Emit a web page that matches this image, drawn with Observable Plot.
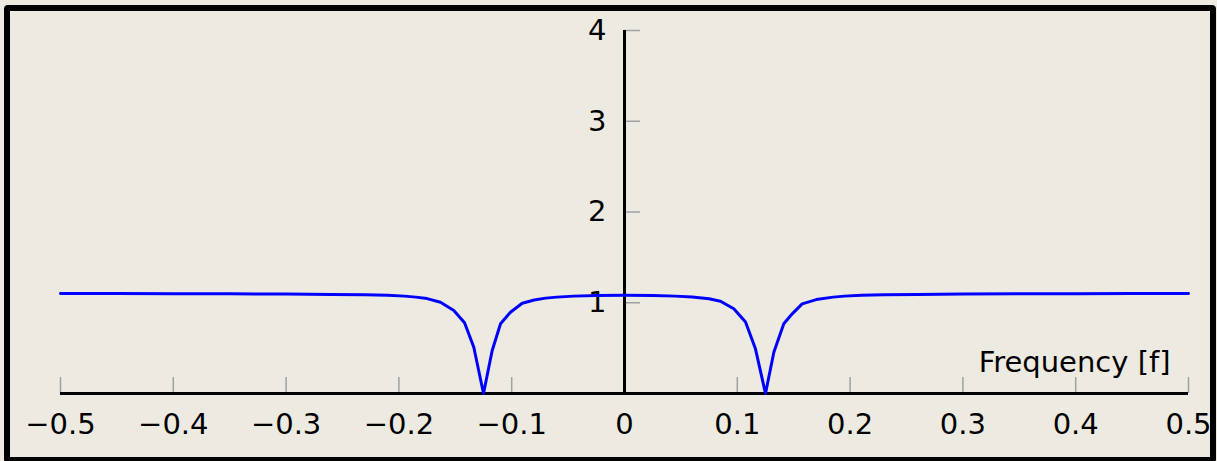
<!DOCTYPE html>
<html><head><meta charset="utf-8">
<script src="https://cdn.jsdelivr.net/npm/d3@7"></script>
<script src="https://cdn.jsdelivr.net/npm/@observablehq/plot@0.6"></script>
<style>
html,body{margin:0;padding:0;background:#edebe1;width:1217px;height:461px;overflow:hidden}
#chart{position:absolute;left:0;top:0}
#frame{position:absolute;left:4px;top:5px;width:1200px;height:446px;border:6px solid #000;border-radius:4px;pointer-events:none;box-sizing:content-box}
</style></head><body><div id="chart"></div><div id="frame"></div>
<script>
const freq = [-0.5,-0.45,-0.4,-0.35,-0.3,-0.26,-0.23,-0.21,-0.195,-0.185,-0.175,-0.1631,-0.1513,-0.1418,-0.1336,-0.125,-0.1173,-0.1099,-0.1011,-0.0907,-0.08,-0.07,-0.06,-0.045,-0.025,0,
  0.025,0.045,0.06,0.075,0.0851,0.0969,0.1073,0.1161,0.125,0.1324,0.1412,0.1487,0.1575,0.17,0.185,0.195,0.21,0.23,0.26,0.3,0.35,0.4,0.45,0.5];
const magnitude = [1.102,1.101,1.100,1.098,1.096,1.092,1.088,1.082,1.073,1.062,1.046,1.006,0.915,0.779,0.510,0,0.474,0.768,0.896,0.995,1.031,1.051,1.062,1.073,1.080,1.083,
  1.080,1.073,1.063,1.045,1.017,0.934,0.787,0.492,0,0.455,0.768,0.878,0.988,1.035,1.062,1.073,1.082,1.088,1.092,1.096,1.098,1.100,1.101,1.102];
const xTicks = [-0.5,-0.4,-0.3,-0.2,-0.1,0,0.1,0.2,0.3,0.4,0.5];
const yTicks = [1,2,3,4];
const xLabel = "Frequency [f]";

const data = freq.map((f, i) => ({f, v: magnitude[i]}));
const fmt = d => (d < 0 ? "\u2212" : "") + String(Math.abs(d));

const chart = Plot.plot({
  width: 1217, height: 461,
  marginLeft: 60, marginRight: 29, marginTop: 30, marginBottom: 68,
  x: {domain: [-0.5, 0.5], axis: null},
  y: {domain: [0, 4], axis: null},
  style: {background: "transparent", fontFamily: "DejaVu Sans", fontSize: "29px", color: "black", overflow: "visible"},
  marks: [
    Plot.ruleX(xTicks, {x: d => d, y1: 0, y2: 0.176, stroke: "#a0a0a0", strokeWidth: 1.5}),
    Plot.ruleY(yTicks, {y: d => d, x1: 0, x2: 0.0142, stroke: "#a0a0a0", strokeWidth: 1.5}),
    Plot.ruleY([0], {x1: -0.5, x2: 0.5, stroke: "black", strokeWidth: 3}),
    Plot.ruleX([0], {y1: 0, y2: 4, stroke: "black", strokeWidth: 3}),
    Plot.text(xTicks, {x: d => d, y: 0, dy: 31, text: fmt, fill: "black"}),
    Plot.text(yTicks, {x: 0, y: d => d, dx: -18, dy: 0, text: d => String(d), textAnchor: "end", fill: "black"}),
    Plot.text([xLabel], {x: 0.5, y: 0, dx: -18, dy: -31, text: d => d, textAnchor: "end", fill: "black"}),
    Plot.line(data, {x: "f", y: "v", stroke: "#0000ff", strokeWidth: 3, curve: "linear"})
  ]
});
document.getElementById("chart").appendChild(chart);
</script>
</body></html>
